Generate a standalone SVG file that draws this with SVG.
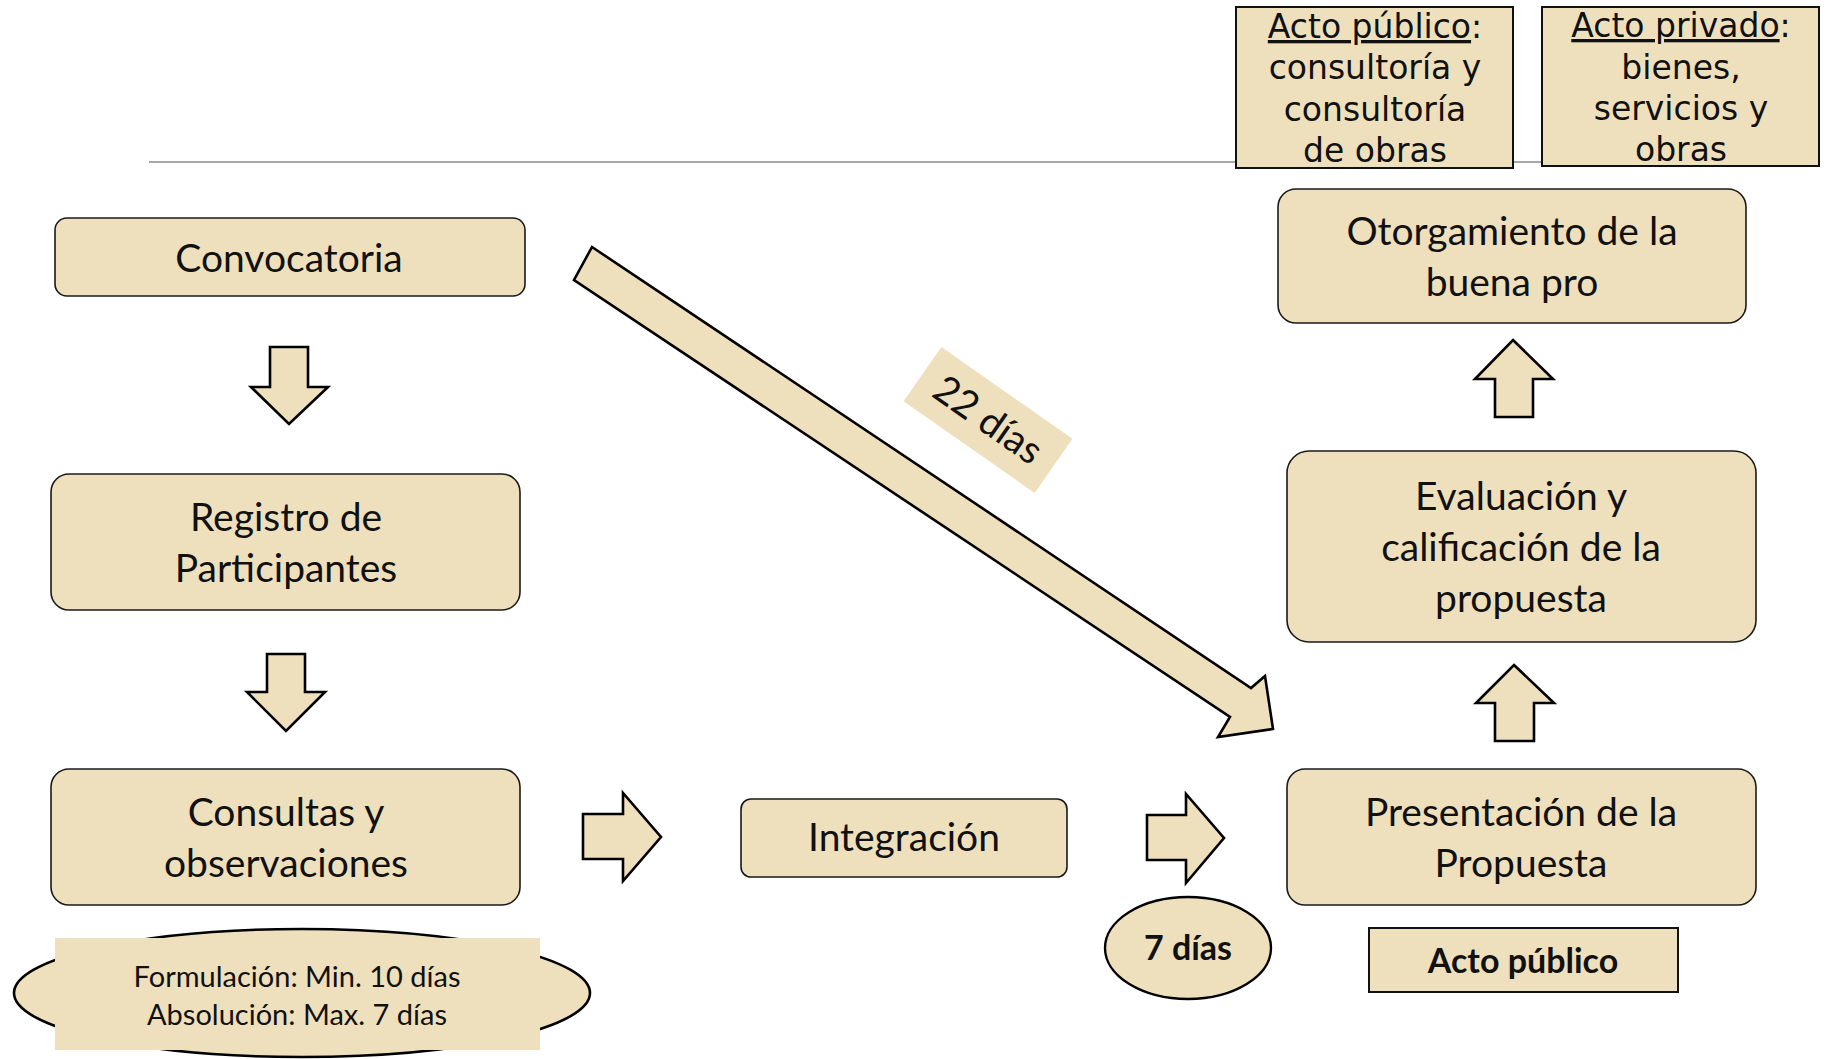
<svg xmlns="http://www.w3.org/2000/svg" width="1828" height="1059" viewBox="0 0 1828 1059">
<style>
.box{fill:#EFE0BD;stroke:#1a1a1a;stroke-width:1.6}
.sq{fill:#EFE0BD;stroke:#111;stroke-width:2}
.arr{fill:#EFE0BD;stroke:#000;stroke-width:2.6;stroke-linejoin:miter}
.t{font-family:Lato,"Liberation Sans",sans-serif;font-size:39px;fill:#111;text-anchor:middle}
.ts{font-family:Lato,"Liberation Sans",sans-serif;font-size:29px;fill:#111;text-anchor:middle}
.tb{font-family:Lato,"Liberation Sans",sans-serif;font-size:34px;font-weight:bold;fill:#111;text-anchor:middle}
.th{font-family:"DejaVu Sans",Verdana,sans-serif;font-size:33px;fill:#111;text-anchor:middle}
.u{text-decoration:underline}
</style>
<rect width="1828" height="1059" fill="#fff"/>
<line x1="149" y1="162" x2="1545" y2="162" stroke="#888" stroke-width="1.6"/>

<g id="acto-publico-top">
<rect class="sq" x="1236" y="7" width="277" height="161"/>
<text class="th" x="1375" y="38"><tspan class="u">Acto público</tspan>:</text>
<text class="th" x="1375" y="79">consultoría y</text>
<text class="th" x="1375" y="121">consultoría</text>
<text class="th" x="1375" y="162">de obras</text>
</g>
<g id="acto-privado-top">
<rect class="sq" x="1542" y="7" width="277" height="159"/>
<text class="th" x="1681" y="37"><tspan class="u">Acto privado</tspan>:</text>
<text class="th" x="1681" y="79">bienes,</text>
<text class="th" x="1681" y="120">servicios y</text>
<text class="th" x="1681" y="161">obras</text>
</g>

<g id="convocatoria">
<rect class="box" x="55" y="218" width="470" height="78" rx="12"/>
<text class="t" x="289" y="272">Convocatoria</text>
</g>
<g id="registro">
<rect class="box" x="51" y="474" width="469" height="136" rx="18"/>
<text class="t" x="286" y="531">Registro de</text>
<text class="t" x="286" y="582">Participantes</text>
</g>
<g id="consultas">
<rect class="box" x="51" y="769" width="469" height="136" rx="18"/>
<text class="t" x="286" y="826">Consultas y</text>
<text class="t" x="286" y="877">observaciones</text>
</g>
<g id="formulacion">
<ellipse cx="302" cy="993" rx="288" ry="64" fill="#EFE0BD" stroke="#000" stroke-width="2.6"/>
<rect x="55" y="938" width="485" height="112" fill="#EFE0BD"/>
<text class="ts" x="297" y="987">Formulación: Min. 10 días</text>
<text class="ts" x="297" y="1025">Absolución: Max. 7 días</text>
</g>
<g id="integracion">
<rect class="box" x="741" y="799" width="326" height="78" rx="10"/>
<text class="t" x="904" y="851">Integración</text>
</g>
<g id="siete-dias">
<ellipse cx="1188" cy="948" rx="83" ry="51" fill="#EFE0BD" stroke="#000" stroke-width="2.4"/>
<text class="tb" x="1188" y="960">7 días</text>
</g>
<g id="presentacion">
<rect class="box" x="1287" y="769" width="469" height="136" rx="18"/>
<text class="t" x="1521" y="826">Presentación de la</text>
<text class="t" x="1521" y="877">Propuesta</text>
</g>
<g id="acto-publico">
<rect class="sq" x="1369" y="928" width="309" height="64"/>
<text class="tb" x="1523" y="973">Acto público</text>
</g>
<g id="evaluacion">
<rect class="box" x="1287" y="451" width="469" height="191" rx="22"/>
<text class="t" x="1521" y="510">Evaluación y</text>
<text class="t" x="1521" y="561">calificación de la</text>
<text class="t" x="1521" y="612">propuesta</text>
</g>
<g id="otorgamiento">
<rect class="box" x="1278" y="189" width="468" height="134" rx="18"/>
<text class="t" x="1512" y="245">Otorgamiento de la</text>
<text class="t" x="1512" y="296">buena pro</text>
</g>

<g id="connectors">
<polygon class="arr" points="270,347 308,347 308,387 328,387 289,424 251,387 270,387"/>
<polygon class="arr" points="267,654 305,654 305,692 325,692 286,731 247,692 267,692"/>
<polygon class="arr" points="583,814 623,814 623,793 661,837 623,881 623,859 583,859"/>
<polygon class="arr" points="1147,815 1186,815 1186,794 1224,838 1186,883 1186,860 1147,860"/>
<polygon class="arr" points="1514,665 1554,703 1534,703 1534,741 1495,741 1495,703 1476,703"/>
<polygon class="arr" points="1513,340 1553,379 1533,379 1533,417 1495,417 1495,379 1475,379"/>
<polygon class="arr" points="592,247 1251,688 1265,676 1273,729 1218,737 1230,717 574,280"/>
<g transform="translate(988,420) rotate(35)">
<rect x="-80" y="-33" width="160" height="66" fill="#EFE0BD"/>
<text class="t" x="0" y="13" font-size="38">22 días</text>
</g>
</g>
</svg>
